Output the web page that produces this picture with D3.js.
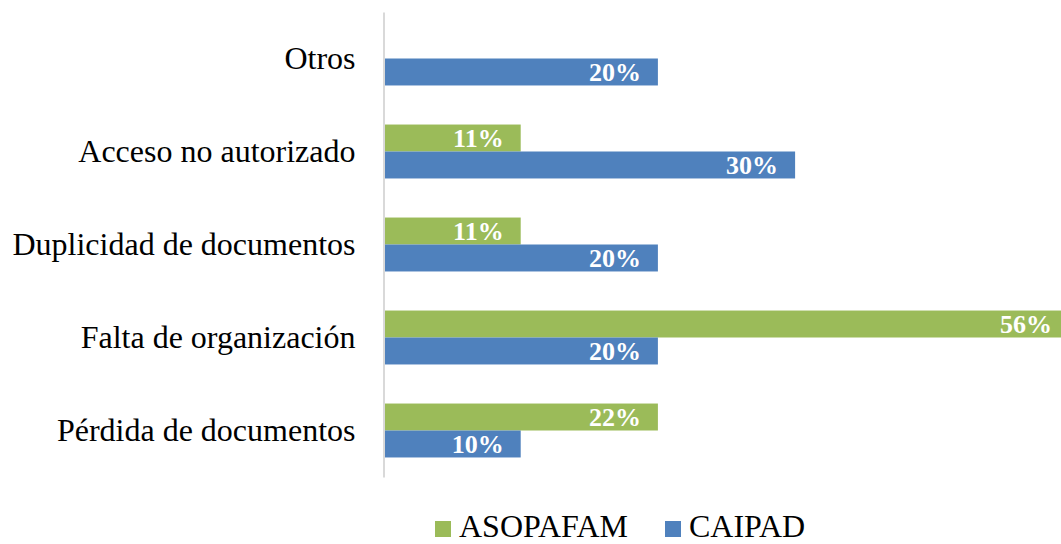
<!DOCTYPE html>
<html>
<head>
<meta charset="utf-8">
<script src="https://cdn.jsdelivr.net/npm/d3@7"></script>
<style>
  html, body { margin: 0; padding: 0; background: #fff; overflow: hidden; }
  svg { display: block; }
</style>
</head>
<body>
<div id="chart"></div>
<script>
const categories = ["Otros", "Acceso no autorizado", "Duplicidad de documentos", "Falta de organización", "Pérdida de documentos"];
const seriesNames = ["ASOPAFAM", "CAIPAD"];
const asopafamCounts = [0, 1, 1, 5, 2];
const caipadCounts = [2, 3, 2, 2, 1];
const asopafamLabels = ["", "11%", "11%", "56%", "22%"];
const caipadLabels = ["20%", "30%", "20%", "20%", "10%"];
const colors = ["#9BBB59", "#4F81BD"];

const W = 1061, H = 544;
const serif = "'Liberation Serif', 'Times New Roman', serif";
const svg = d3.select("#chart").append("svg").attr("width", W).attr("height", H);

const axisX = 383.5;
const x = d3.scaleLinear().domain([0, 5]).range([axisX, axisX + 686]);
const y = d3.scaleBand().domain(categories).range([12, 477]).paddingInner(0.42).paddingOuter(0.21);
const ys = d3.scaleBand().domain(seriesNames).range([0, y.bandwidth()]);

const rows = categories.map((c, i) => ({
  cat: c,
  vals: [
    { s: seriesNames[0], v: asopafamCounts[i], lab: asopafamLabels[i], col: colors[0] },
    { s: seriesNames[1], v: caipadCounts[i], lab: caipadLabels[i], col: colors[1] }
  ]
}));

const g = svg.selectAll("g.cat").data(rows).enter().append("g")
  .attr("class", "cat")
  .attr("transform", d => `translate(0,${y(d.cat)})`);

const bars = g.selectAll("g.bar").data(d => d.vals.filter(v => v.v > 0)).enter().append("g");
bars.append("rect")
  .attr("x", x(0))
  .attr("y", d => ys(d.s))
  .attr("width", d => x(d.v) - x(0))
  .attr("height", ys.bandwidth())
  .attr("fill", d => d.col);
bars.append("text")
  .attr("x", d => Math.min(x(d.v), W + 8) - 17)
  .attr("y", d => ys(d.s) + ys.bandwidth() / 2)
  .attr("dy", "0.35em")
  .attr("text-anchor", "end")
  .attr("fill", "#fff")
  .style("font-family", serif)
  .style("font-weight", "bold")
  .style("font-size", "26px")
  .text(d => d.lab);

// axis
const yAxis = d3.axisLeft(y).tickSize(0).tickPadding(28);
const ax = svg.append("g").attr("transform", `translate(${axisX},0)`).call(yAxis);
ax.attr("font-family", null).attr("font-size", null);
ax.select(".domain").attr("stroke", "#D9D9D9").attr("stroke-width", 2);
ax.selectAll(".tick text")
  .style("font-family", serif)
  .style("font-size", "32px")
  .attr("fill", "#000");

// legend
const legend = svg.append("g");
const legX = [435, 665];
seriesNames.forEach((s, i) => {
  legend.append("rect").attr("x", legX[i]).attr("y", 521).attr("width", 16).attr("height", 16).attr("fill", colors[i]);
  legend.append("text").attr("x", legX[i] + 24).attr("y", 537)
    .style("font-family", serif)
    .style("font-size", "32px").attr("fill", "#000").text(s);
});
</script>
</body>
</html>
